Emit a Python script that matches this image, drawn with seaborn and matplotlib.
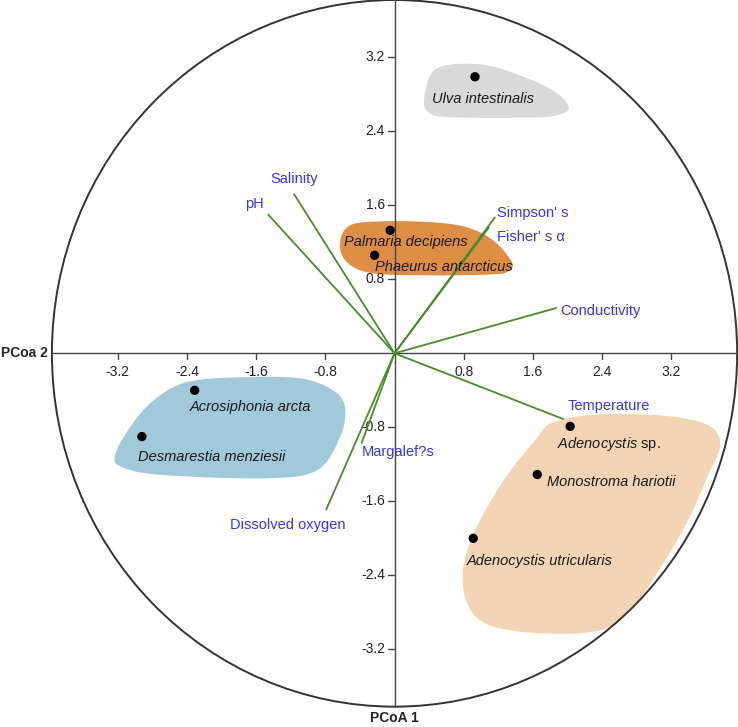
import numpy as np
import pandas as pd
import matplotlib
matplotlib.use("Agg")
import matplotlib.pyplot as plt
from matplotlib.patches import Ellipse, Polygon
import seaborn as sns

# ---------------- data ----------------
species = ["Ulva intestinalis", "Palmaria decipiens", "Phaeurus antarcticus",
           "Acrosiphonia arcta", "Desmarestia menziesii", "Adenocystis sp.",
           "Monostroma hariotii", "Adenocystis utricularis"]
pc1 = [0.93, -0.05, -0.23, -2.31, -2.92, 2.03, 1.65, 0.91]
pc2 = [2.99, 1.33, 1.06, -0.40, -0.90, -0.79, -1.31, -2.00]

variables = ["Salinity", "pH", "Simpson' s", "Fisher' s \u03b1", "Conductivity",
             "Temperature", "Margalef?s", "Dissolved oxygen"]
vec_x = [-1.16, -1.46, 1.16, 1.09, 1.87, 1.95, -0.38, -0.79]
vec_y = [1.72, 1.50, 1.47, 1.36, 0.49, -0.71, -0.97, -1.69]

tick_values = [-3.2, -2.4, -1.6, -0.8, 0.8, 1.6, 2.4, 3.2]
tick_labels = ["-3.2", "-2.4", "-1.6", "-0.8", "0.8", "1.6", "2.4", "3.2"]

# group outlines (hull shapes behind species groups)
grey_x = [0.341, 0.434, 0.676, 1.069, 1.451, 1.832, 2.006, 1.948, 1.647, 0.676, 0.410]
grey_y = [2.735, 3.038, 3.124, 3.114, 3.005, 2.843, 2.681, 2.595, 2.551, 2.551, 2.595]
orange_x = [-0.630, -0.514, -0.133, 0.445, 0.838, 1.139, 1.358, 1.312, 1.139, 0.445, -0.249, -0.549]
orange_y = [1.189, 1.384, 1.427, 1.416, 1.362, 1.222, 0.984, 0.886, 0.854, 0.843, 0.865, 0.984]
blue_x = [-3.000, -2.711, -2.364, -1.786, -1.092, -0.711, -0.572, -0.630, -0.896, -1.474, -2.630, -3.116, -3.231]
blue_y = [-0.724, -0.454, -0.303, -0.259, -0.270, -0.400, -0.584, -0.908, -1.265, -1.351, -1.319, -1.243, -1.103]
peach_x = [1.832, 2.376, 3.185, 3.647, 3.763, 3.624, 3.393, 3.069, 2.746, 2.376, 1.682, 1.104, 0.850, 0.792, 0.931, 1.277, 1.624]
peach_y = [-0.746, -0.659, -0.681, -0.789, -0.995, -1.319, -1.805, -2.324, -2.757, -2.995, -3.027, -2.941, -2.724, -2.346, -1.914, -1.351, -0.941]

# ---------------- layout ----------------
species_label_x = [0.434, -0.584, -0.225, -2.364, -2.965, 1.879, 1.763, 0.838]
species_label_y = [2.746, 1.200, 0.930, -0.584, -1.124, -0.984, -1.395, -2.249]
var_label_x = [-1.16, -1.62, 1.19, 1.19, 1.92, 2.48, -0.38, -1.23]
var_label_y = [1.89, 1.61, 1.52, 1.26, 0.46, -0.57, -1.07, -1.86]
var_label_ha = ["center", "center", "left", "left", "left", "center", "left", "center"]


def smooth_closed(xs, ys, n=20):
    pts = np.column_stack([xs, ys])
    m = len(pts)
    out = []
    for i in range(m):
        p0, p1, p2, p3 = pts[(i - 1) % m], pts[i], pts[(i + 1) % m], pts[(i + 2) % m]
        for t in np.linspace(0, 1, n, endpoint=False):
            t2, t3 = t * t, t * t * t
            out.append(0.5 * ((2 * p1) + (-p0 + p2) * t +
                              (2 * p0 - 5 * p1 + 4 * p2 - p3) * t2 +
                              (-p0 + 3 * p1 - 3 * p2 + p3) * t3))
    return np.array(out)


sns.set_style("white")
plt.rcParams["font.family"] = ["Liberation Sans", "DejaVu Sans"]
plt.rcParams["mathtext.fontset"] = "custom"
plt.rcParams["mathtext.rm"] = "Liberation Sans"
plt.rcParams["mathtext.it"] = "Liberation Sans:italic"

fig = plt.figure(figsize=(7.38, 7.27), dpi=100)
ax = fig.add_axes([0, 0, 1, 1])
ax.set_xlim(-4.56, 3.97)
ax.set_ylim(-4.04, 3.82)
ax.axis("off")

# group blobs
for bx, by, col in [(grey_x, grey_y, "#d9d9d9"), (orange_x, orange_y, "#de8d45"),
                    (blue_x, blue_y, "#a2c9d9"), (peach_x, peach_y, "#f3d4b4")]:
    ax.add_patch(Polygon(smooth_closed(bx, by), closed=True, facecolor=col,
                         edgecolor="none", zorder=1))

# circle and axes
rx, ry = 3.96, 3.82
ax.add_patch(Ellipse((0, 0), 2 * rx, 2 * ry, facecolor="none", edgecolor="#333333",
                     linewidth=1.4, zorder=2))
ax.plot([-rx, rx], [0, 0], color="#444444", lw=1.0, zorder=2)
ax.plot([0, 0], [-ry, ry], color="#444444", lw=1.0, zorder=2)
for v, lab in zip(tick_values, tick_labels):
    ax.plot([v, v], [0, -0.06], color="#444444", lw=1.0, zorder=2)
    ax.text(v, -0.20, lab, ha="center", va="center", fontsize=10, color="#222222")
    ax.plot([0, -0.075], [v, v], color="#444444", lw=1.0, zorder=2)
    ax.text(-0.11, v, lab, ha="right", va="center", fontsize=10, color="#222222")

ax.text(-4.55, 0, "PCoa 2", ha="left", va="center", fontsize=10, fontweight="bold")
ax.text(0, -3.94, "PCoA 1", ha="center", va="center", fontsize=10, fontweight="bold")

# environmental vectors
rows = []
for name, x, y in zip(variables, vec_x, vec_y):
    rows.append({"var": name, "x": 0.0, "y": 0.0})
    rows.append({"var": name, "x": x, "y": y})
vec_df = pd.DataFrame(rows)
sns.lineplot(data=vec_df, x="x", y="y", units="var", estimator=None, sort=False,
             color="#4b8a2e", linewidth=1.3, ax=ax, legend=False, zorder=3)
for name, lx, ly, ha in zip(variables, var_label_x, var_label_y, var_label_ha):
    ax.text(lx, ly, name, ha=ha, va="center", fontsize=10.5, color="#3535ee", zorder=5)

# species points
sp_df = pd.DataFrame({"species": species, "PC1": pc1, "PC2": pc2})
sns.scatterplot(data=sp_df, x="PC1", y="PC2", color="black", s=45, edgecolor="none",
                ax=ax, zorder=4, legend=False)
for name, lx, ly in zip(species, species_label_x, species_label_y):
    if name.endswith(" sp."):
        txt = r"$\it{" + name[:-4] + r"}$ sp."
        style = "normal"
    else:
        txt = name
        style = "italic"
    ax.text(lx, ly, txt, ha="left", va="center", fontsize=10.5, style=style,
            color="#1a1a1a", zorder=5)

ax.set_xlabel("")
ax.set_ylabel("")
fig.savefig("out.png", dpi=100)
